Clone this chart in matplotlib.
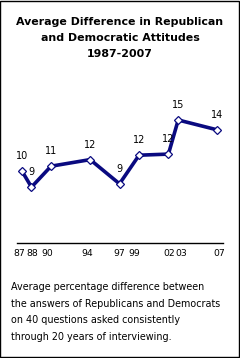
import matplotlib
matplotlib.use("Agg")
import matplotlib.pyplot as plt
from matplotlib.patches import Rectangle

# data
years = [1987, 1988, 1990, 1994, 1997, 1999, 2002, 2003, 2007]
year_labels = ["87", "88", "90", "94", "97", "99", "02", "03", "07"]
avg_diff = [10.4, 8.9, 10.8, 11.4, 9.2, 11.8, 11.9, 15.0, 14.1]
value_labels = ["10", "9", "11", "12", "9", "12", "12", "15", "14"]
# where the year labels sit under the axis (they are spread a little)
label_pos = [1986.75, 1988.1, 1989.65, 1993.75, 1997.0, 1998.55, 2002.05, 2003.35, 2007.15]

title = "Average Difference in Republican\nand Democratic Attitudes\n1987-2007"
note = ("Average percentage difference between\n"
        "the answers of Republicans and Democrats\n"
        "on 40 questions asked consistently\n"
        "through 20 years of interviewing.")

navy = "#0a0a80"

fig = plt.figure(figsize=(2.40, 3.58), dpi=100)
fig.patch.set_facecolor("white")

ax = fig.add_axes([0.0496, 0.3212, 0.8967, 0.4051])
ax.plot(years, avg_diff, color=navy, lw=2.6, marker="D", ms=4.2,
        mfc="white", mec=navy, mew=0.9, zorder=3)
for x, y, s in zip(years, avg_diff, value_labels):
    ax.annotate(s, (x, y), xytext=(0, 7), textcoords="offset points",
                ha="center", va="bottom", fontsize=7, color="black")

ax.set_xlim(1986, 2008)
ax.set_ylim(3.82, 17)
ax.set_xticks(label_pos)
ax.set_xticklabels(year_labels, fontsize=6.7)
ax.set_yticks([])
ax.tick_params(axis="x", length=0, pad=4)
for side in ["top", "left", "right"]:
    ax.spines[side].set_visible(False)
ax.spines["bottom"].set_bounds(1986.5, 2007.6)
ax.spines["bottom"].set_linewidth(1.0)
ax.patch.set_alpha(0)

fig.text(0.5, 1 - 38 / 358, title, ha="center", va="center",
         fontsize=7.9, fontweight="bold", linespacing=1.7)
fig.text(0.046, 1 - 312 / 358, note, ha="left", va="center",
         fontsize=6.9, linespacing=1.8)

fig.add_artist(Rectangle((0.002, 0.002), 0.994, 0.995, transform=fig.transFigure,
                         fill=False, edgecolor="black", lw=1.0))

fig.savefig("out.png", dpi=100)
